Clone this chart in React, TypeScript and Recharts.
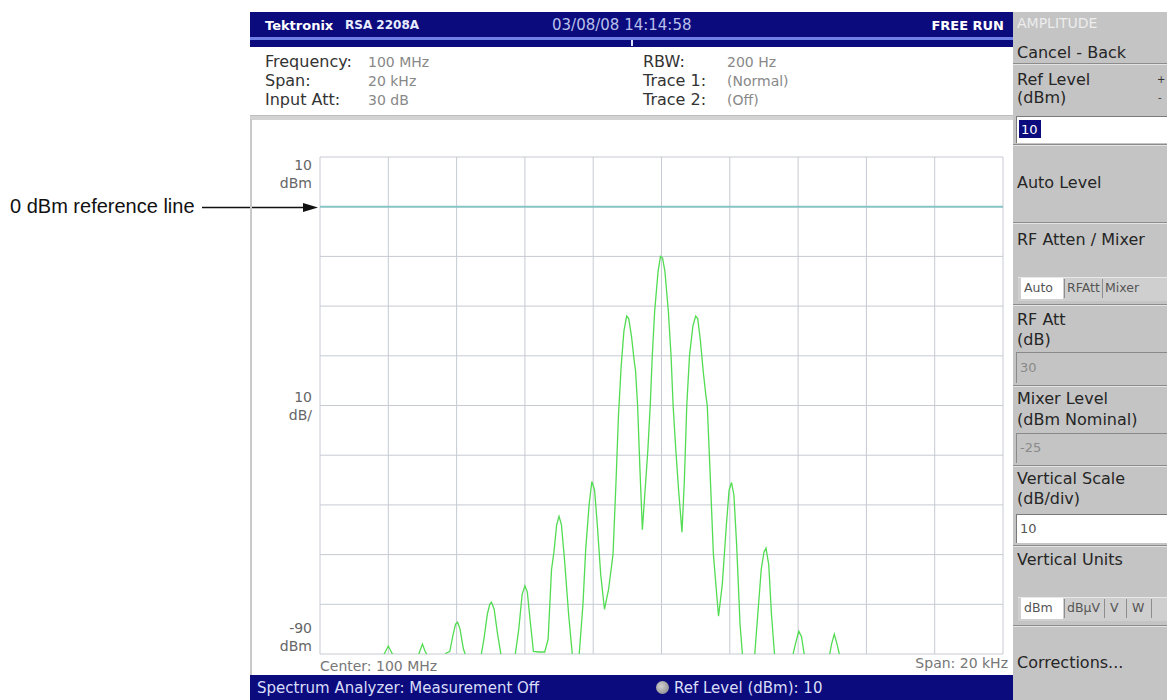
import React from "react";
import { LineChart, Line, XAxis, YAxis, CartesianGrid, ReferenceLine } from "recharts";

// trace: offset from center (kHz) and level (dBm)
const freqKHz = [
  -10, -8.3, -8.12, -8.0, -7.88, -7.7, -7.15, -7.08, -7.0, -6.92, -6.8,
  -6.45, -6.3, -6.2, -6.1, -6.03, -5.97, -5.9, -5.8, -5.7,
  -5.3, -5.2, -5.1, -5.03, -4.98, -4.9, -4.8, -4.68,
  -4.3, -4.18, -4.08, -4.0, -3.93, -3.85, -3.75, -3.6, -3.42,
  -3.32, -3.22, -3.15, -3.07, -3.0, -2.93, -2.84, -2.72, -2.6,
  -2.42, -2.3, -2.22, -2.12, -2.04, -1.96, -1.88, -1.78, -1.67,
  -1.55, -1.42, -1.33, -1.26, -1.18, -1.1, -1.02, -0.96, -0.88, -0.8, -0.76, -0.7, -0.63, -0.56,
  -0.48, -0.4, -0.33, -0.27, -0.2, -0.1, -0.03, 0.03, 0.1, 0.2, 0.28, 0.34, 0.42, 0.5, 0.6,
  0.67, 0.74, 0.82, 0.92, 1.0, 1.06, 1.14, 1.22, 1.3, 1.34, 1.42, 1.52, 1.67,
  1.78, 1.9, 1.98, 2.05, 2.12, 2.2, 2.3, 2.38,
  2.72, 2.82, 2.92, 3.0, 3.06, 3.14, 3.22, 3.32,
  3.82, 3.92, 4.02, 4.1, 4.2,
  4.9, 4.98, 5.06, 5.14, 5.24, 10,
];
const levelDbm = [
  -91, -91, -90, -88.4, -90, -91, -91, -89.5, -88, -89.5, -91,
  -91, -89.8, -89.5, -86, -84, -83.6, -85, -89, -91,
  -91, -87, -82, -80, -79.6, -81, -86, -91,
  -91, -85, -78, -76.3, -77.5, -83, -89.5, -89.6, -89.6,
  -87, -73, -69.5, -64, -62.3, -64, -71, -82, -91,
  -91, -80, -69, -60, -55.3, -57, -64, -74, -81,
  -77, -70, -55, -42, -32, -25, -22, -22.5, -26, -31, -33, -40, -53, -65,
  -57, -49, -40, -30, -21, -13, -10, -10.3, -13, -21, -30, -40, -49, -57, -65.5,
  -55, -40, -30, -24, -22, -22.5, -27, -33, -38, -40, -53, -70, -82.4,
  -76, -64, -57, -55.5, -58, -68, -84, -91,
  -91, -82, -73, -69.5, -68.7, -72, -82, -91,
  -91, -88, -85.4, -86.5, -91,
  -91, -88, -86, -88, -91, -91,
];

const xTicks = [-10, -8, -6, -4, -2, 0, 2, 4, 6, 8, 10];
const yTicks = [10, 0, -10, -20, -30, -40, -50, -60, -70, -80, -90];
const yLabelValues = [10, -40, -90];
const yLabelNumbers = ["10", "10", "-90"];
const yLabelUnits = ["dBm", "dB/", "dBm"];
const refLineDbm = 0;

const infoLabelsLeft = ["Frequency:", "Span:", "Input Att:"];
const infoValuesLeft = ["100 MHz", "20 kHz", "30 dB"];
const infoLabelsRight = ["RBW:", "Trace 1:", "Trace 2:"];
const infoValuesRight = ["200 Hz", "(Normal)", "(Off)"];

const data = freqKHz.map((f, i) => ({ f, dbm: levelDbm[i] }));

const ui = '"DejaVu Sans", Verdana, sans-serif';
const navy = "#0b0b7e";

const Txt = ({ x, y, size = 16, color = "#262626", bold = false, end = false, family = ui, children }: any) => (
  <div
    style={{
      position: "absolute",
      left: x,
      top: y,
      transform: end ? "translate(-100%,-50%)" : "translateY(-50%)",
      whiteSpace: "nowrap",
      fontFamily: family,
      fontSize: size,
      fontWeight: bold ? 700 : 400,
      color,
      lineHeight: 1,
    }}
  >
    {children}
  </div>
);

const Box = ({ x, y, w, h, bg, style }: any) => (
  <div style={{ position: "absolute", left: x, top: y, width: w, height: h, background: bg, ...style }} />
);

const Sep = ({ y }: any) => (
  <Box x={1013} y={y} w={154} h={1} bg="#8c8c8c" style={{ borderBottom: "1px solid #e4e4e4" }} />
);

const NoTick = () => <g />;

const DbTick = (props: any) => {
  const { x, y, payload } = props;
  const i = yLabelValues.indexOf(payload.value);
  if (i < 0) return <g />;
  const shift = [17, 0, -17][i];
  const st = { fontFamily: ui, fontSize: 14, fill: "#666" };
  return (
    <g>
      <text x={x} y={y + shift - 9} textAnchor="end" dominantBaseline="central" style={st}>
        {yLabelNumbers[i]}
      </text>
      <text x={x} y={y + shift + 9} textAnchor="end" dominantBaseline="central" style={st}>
        {yLabelUnits[i]}
      </text>
    </g>
  );
};

export default function App() {
  return (
    <div style={{ position: "absolute", left: 0, top: 0, width: 1167, height: 700, overflow: "hidden", background: "#fff" }}>
      {/* annotation */}
      <Txt x={10} y={206} size={20} color="#111" family='"Liberation Sans", Arial, sans-serif'>
        0 dBm reference line
      </Txt>
      <svg style={{ position: "absolute", left: 0, top: 0 }} width={330} height={230}>
        <line x1={202} y1={207.5} x2={306} y2={207.5} stroke="#111" strokeWidth={1.3} />
        <polygon points="318,207.5 303,203 303,212" fill="#111" />
      </svg>

      {/* title bar */}
      <Box x={250} y={12} w={763} h={35} bg={navy} />
      <Box x={250} y={37} w={763} h={3} bg="#6f80e6" />
      <Box x={631} y={40} w={2} h={6} bg="#dfe4ff" />
      <Txt x={265} y={25} size={13} bold color="#fff">Tektronix</Txt>
      <Txt x={345} y={25} size={12} bold color="#e8ecff">RSA 2208A</Txt>
      <Txt x={552} y={25} size={15} color="#b9c0ea">03/08/08 14:14:58</Txt>
      <Txt x={1004} y={25} size={13} bold end color="#fff">FREE RUN</Txt>

      {/* info block */}
      {infoLabelsLeft.map((l, i) => (
        <React.Fragment key={l}>
          <Txt x={265} y={62 + i * 19} size={16} color="#333">{l}</Txt>
          <Txt x={368} y={62 + i * 19} size={14} color="#888">{infoValuesLeft[i]}</Txt>
          <Txt x={643} y={62 + i * 19} size={16} color="#333">{infoLabelsRight[i]}</Txt>
          <Txt x={727} y={62 + i * 19} size={14} color="#888">{infoValuesRight[i]}</Txt>
        </React.Fragment>
      ))}
      <Box x={250} y={115} w={763} h={4} bg="#d3d3d3" style={{ borderTop: "1px solid #bdbdbd" }} />
      <Box x={250} y={119} w={2} h={556} bg="#c9c9c9" />

      {/* spectrum plot */}
      <div style={{ position: "absolute", left: 250, top: 140, width: 763, height: 535 }}>
        <LineChart width={763} height={535} data={data} margin={{ top: 17, right: 10, bottom: 0, left: 0 }}>
          <CartesianGrid stroke="#c6cad3" strokeWidth={1} />
          <XAxis
            dataKey="f"
            type="number"
            domain={[-10, 10]}
            ticks={xTicks}
            tick={<NoTick />}
            axisLine={false}
            tickLine={false}
            height={21}
          />
          <YAxis
            type="number"
            domain={[-90, 10]}
            ticks={yTicks}
            allowDataOverflow
            width={70}
            axisLine={false}
            tickLine={false}
            tickSize={6}
            tickMargin={2}
            tick={<DbTick />}
          />
          <ReferenceLine y={refLineDbm} stroke="#86c5c5" strokeWidth={2} />
          <Line
            type="linear"
            dataKey="dbm"
            stroke="#52dc52"
            strokeWidth={1.3}
            dot={false}
            isAnimationActive={false}
          />
        </LineChart>
      </div>
      <Txt x={320} y={666} size={14} color="#777">Center: 100 MHz</Txt>
      <Txt x={1008} y={663} size={14} end color="#777">Span: 20 kHz</Txt>

      {/* status bar */}
      <Box x={250} y={675} w={763} h={25} bg={navy} />
      <Txt x={257} y={688} size={15} color="#d9ddf8">Spectrum Analyzer: Measurement Off</Txt>
      <div
        style={{
          position: "absolute", left: 656, top: 681, width: 13, height: 13, borderRadius: "50%",
          background: "radial-gradient(circle at 40% 40%, #d0d0d0, #808080)",
        }}
      />
      <Txt x={674} y={688} size={15} color="#d9ddf8">Ref Level (dBm): 10</Txt>

      {/* side menu */}
      <Box x={1013} y={12} w={154} h={688} bg="#c4c4c4" />
      <Txt x={1017} y={23} size={14} color="#ededed">AMPLITUDE</Txt>
      <Txt x={1017} y={53}>Cancel - Back</Txt>
      <Sep y={63} />
      <Txt x={1017} y={80}>Ref Level</Txt>
      <Txt x={1017} y={98}>(dBm)</Txt>
      <Txt x={1157} y={80} size={10} color="#333">+</Txt>
      <Txt x={1158} y={98} size={10} color="#333">-</Txt>
      <Box x={1016} y={116} w={151} h={26} bg="#fff" style={{ borderTop: "1px solid #7a7a7a", borderLeft: "1px solid #7a7a7a" }} />
      <Box x={1019} y={120} w={22} h={18} bg={navy} />
      <Txt x={1021} y={129} size={13} color="#fff">10</Txt>
      <Sep y={144} />
      <Txt x={1017} y={183}>Auto Level</Txt>
      <Sep y={222} />
      <Txt x={1017} y={240}>RF Atten / Mixer</Txt>
      <Box x={1018} y={277} w={149} h={23} bg="#cfcfcf" style={{ borderTop: "1px solid #e8e8e8" }} />
      <Box x={1021} y={278} w={42} h={21} bg="#fff" />
      <Box x={1064} y={279} w={1} h={19} bg="#8d8d8d" />
      <Box x={1102} y={279} w={1} h={19} bg="#8d8d8d" />
      <Txt x={1024} y={288} size={12.5} color="#555">Auto</Txt>
      <Txt x={1067} y={288} size={12.5} color="#555">RFAtt</Txt>
      <Txt x={1105} y={288} size={12.5} color="#555">Mixer</Txt>
      <Sep y={304} />
      <Txt x={1017} y={320}>RF Att</Txt>
      <Txt x={1017} y={340}>(dB)</Txt>
      <Box x={1016} y={352} w={151} h={30} bg="#c4c4c4" style={{ borderTop: "1px solid #8a8a8a", borderLeft: "1px solid #8a8a8a" }} />
      <Txt x={1020} y={367} size={13} color="#8a8a8a">30</Txt>
      <Sep y={385} />
      <Txt x={1017} y={399}>Mixer Level</Txt>
      <Txt x={1017} y={420}>(dBm Nominal)</Txt>
      <Box x={1016} y={433} w={151} h={29} bg="#c4c4c4" style={{ borderTop: "1px solid #8a8a8a", borderLeft: "1px solid #8a8a8a" }} />
      <Txt x={1020} y={447} size={13} color="#8a8a8a">-25</Txt>
      <Sep y={465} />
      <Txt x={1017} y={479}>Vertical Scale</Txt>
      <Txt x={1017} y={499}>(dB/div)</Txt>
      <Box x={1016} y={514} w={151} h={28} bg="#fff" style={{ borderTop: "1px solid #7a7a7a", borderLeft: "1px solid #7a7a7a" }} />
      <Txt x={1020} y={528} size={13} color="#555">10</Txt>
      <Sep y={545} />
      <Txt x={1017} y={560}>Vertical Units</Txt>
      <Box x={1018} y={597} w={149} h={23} bg="#cfcfcf" style={{ borderTop: "1px solid #e8e8e8" }} />
      <Box x={1021} y={598} w={42} h={21} bg="#fff" />
      <Box x={1064} y={599} w={1} h={19} bg="#8d8d8d" />
      <Box x={1104} y={599} w={1} h={19} bg="#8d8d8d" />
      <Box x={1126} y={599} w={1} h={19} bg="#8d8d8d" />
      <Box x={1151} y={599} w={1} h={19} bg="#8d8d8d" />
      <Txt x={1024} y={608} size={12.5} color="#555">dBm</Txt>
      <Txt x={1067} y={608} size={12.5} color="#555">dBµV</Txt>
      <Txt x={1110} y={608} size={12.5} color="#555">V</Txt>
      <Txt x={1132} y={608} size={12.5} color="#555">W</Txt>
      <Sep y={625} />
      <Txt x={1017} y={663}>Corrections...</Txt>
    </div>
  );
}
